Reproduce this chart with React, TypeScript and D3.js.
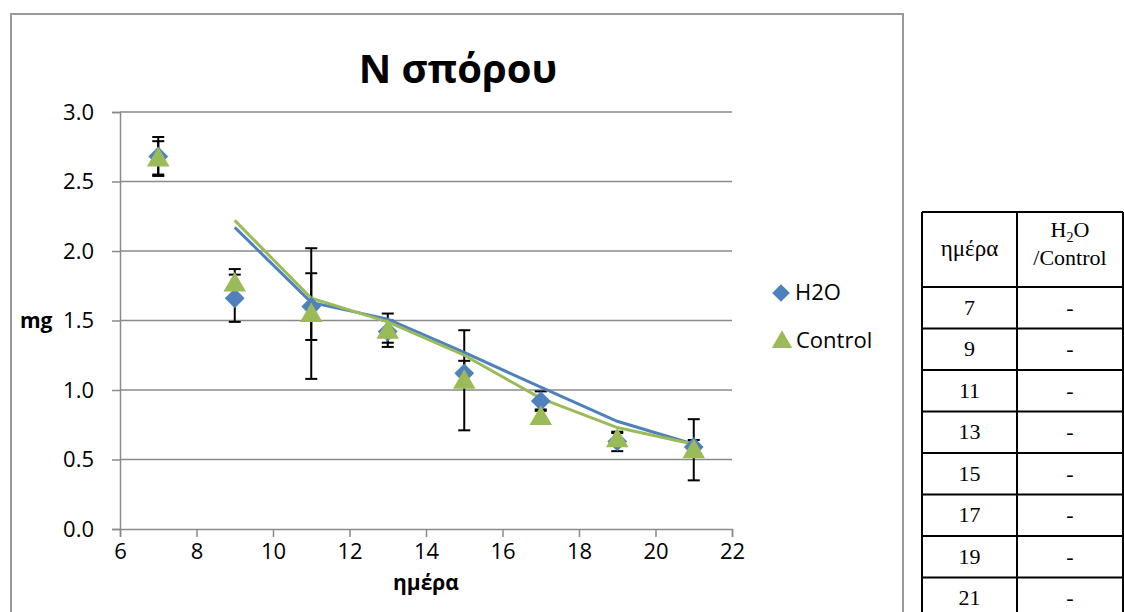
import React, { useEffect, useRef } from "react";
import * as d3 from "d3";

const DAYS = [7, 9, 11, 13, 15, 17, 19, 21];
const H2O = [2.68, 1.66, 1.6, 1.42, 1.12, 0.92, 0.63, 0.59];
const H2O_ERR = [0.14, 0.17, 0.24, 0.08, 0.09, 0.07, 0.07, 0.05];
const CONTROL = [2.67, 1.77, 1.55, 1.43, 1.07, 0.81, 0.65, 0.57];
const CONTROL_ERR = [0.12, 0.1, 0.47, 0.12, 0.36, 0.05, 0.04, 0.22];
const X_TICKS = [6, 8, 10, 12, 14, 16, 18, 20, 22];
const Y_TICKS = [0, 0.5, 1, 1.5, 2, 2.5, 3];
const TABLE_DAYS = ["7", "9", "11", "13", "15", "17", "19", "21"];
const TABLE_VALUES = ["-", "-", "-", "-", "-", "-", "-", "-"];

const BLUE = "#4F81BD";
const GREEN = "#9BBB59";
const GRID = "#8a8a8a";
const FONT = "'Open Sans', 'Noto Sans', sans-serif";
const SERIF = "'Liberation Serif', 'DejaVu Serif', serif";

export default function App() {
  const svgRef = useRef<SVGSVGElement>(null);

  useEffect(() => {
    document.body.style.margin = "0";
    const width = 1124, height = 612;
    const svg = d3.select(svgRef.current).attr("width", width).attr("height", height);
    svg.selectAll("*").remove();

    // chart frame (runs past the bottom of the page)
    svg.append("rect")
      .attr("x", 11).attr("y", 14).attr("width", 892).attr("height", 700)
      .attr("fill", "white").attr("stroke", "#999").attr("stroke-width", 2);

    const x = d3.scaleLinear().domain([6, 22]).range([120, 732]);
    const y = d3.scaleLinear().domain([0, 3]).range([529, 112]);

    // grid
    svg.selectAll(".grid").data(Y_TICKS.filter(d => d > 0)).join("line")
      .attr("x1", x(6)).attr("x2", x(22))
      .attr("y1", d => y(d)).attr("y2", d => y(d))
      .attr("stroke", GRID).attr("stroke-width", 1.5);

    // axes
    const axX = svg.append("g").attr("transform", `translate(0,${y(0)})`)
      .call(d3.axisBottom(x).tickValues(X_TICKS).tickSize(8).tickPadding(6));
    const axY = svg.append("g").attr("transform", `translate(${x(6)},0)`)
      .call(d3.axisLeft(y).tickValues(Y_TICKS).tickSize(8).tickPadding(18).tickFormat(d3.format(".1f")));
    [axX, axY].forEach(a => {
      a.select(".domain").attr("stroke", GRID).attr("stroke-width", 1.5);
      a.selectAll(".tick line").attr("stroke", GRID).attr("stroke-width", 1.5);
      a.selectAll(".tick text").attr("fill", "#000").style("font-family", FONT).style("font-size", "22px");
    });

    // title and axis titles
    svg.append("text").attr("x", 458).attr("y", 83).attr("text-anchor", "middle")
      .style("font-family", FONT).style("font-size", "40px").style("font-weight", 700)
      .text("N σπόρου");
    svg.append("text").attr("x", 426).attr("y", 590).attr("text-anchor", "middle")
      .style("font-family", FONT).style("font-size", "21px").style("font-weight", 700)
      .text("ημέρα");
    svg.append("text").attr("x", 20).attr("y", 328)
      .style("font-family", FONT).style("font-size", "21px").style("font-weight", 700)
      .text("mg");

    const series = [
      { name: "H2O", values: H2O, err: H2O_ERR, color: BLUE },
      { name: "Control", values: CONTROL, err: CONTROL_ERR, color: GREEN },
    ];

    // error bars
    series.forEach(s => {
      const g = svg.append("g").attr("stroke", "#000").attr("stroke-width", 2);
      DAYS.forEach((d, i) => {
        const hi = y(s.values[i] + s.err[i]), lo = y(s.values[i] - s.err[i]), cx = x(d);
        g.append("line").attr("x1", cx).attr("x2", cx).attr("y1", hi).attr("y2", lo);
        g.append("line").attr("x1", cx - 6).attr("x2", cx + 6).attr("y1", hi).attr("y2", hi);
        g.append("line").attr("x1", cx - 6).attr("x2", cx + 6).attr("y1", lo).attr("y2", lo);
      });
    });

    // 2-period moving average trendlines
    const line = d3.line<[number, number]>().x(d => x(d[0])).y(d => y(d[1]));
    series.forEach(s => {
      const pts: [number, number][] = d3.range(1, DAYS.length).map(i => [DAYS[i], (s.values[i - 1] + s.values[i]) / 2]);
      svg.append("path").attr("d", line(pts)).attr("fill", "none")
        .attr("stroke", s.color).attr("stroke-width", 3);
    });

    // markers
    const diamond = d3.symbol(d3.symbolDiamond2, 250)();
    const triangle = d3.symbol(d3.symbolTriangle, 220)();
    svg.selectAll(".h2o").data(DAYS).join("path")
      .attr("d", diamond).attr("fill", BLUE)
      .attr("transform", (d, i) => `translate(${x(d)},${y(H2O[i])})`);
    svg.selectAll(".ctl").data(DAYS).join("path")
      .attr("d", triangle).attr("fill", GREEN)
      .attr("transform", (d, i) => `translate(${x(d)},${y(CONTROL[i]) + 2})`);

    // legend
    const legDiamond = d3.symbol(d3.symbolDiamond2, 200)();
    const legTriangle = d3.symbol(d3.symbolTriangle, 180)();
    const leg = svg.append("g").style("font-family", FONT).style("font-size", "22px");
    leg.append("path").attr("d", legDiamond).attr("fill", BLUE).attr("transform", "translate(781,293)");
    leg.append("text").attr("x", 795).attr("y", 300).text("H2O");
    leg.append("path").attr("d", legTriangle).attr("fill", GREEN).attr("transform", "translate(782,342)");
    leg.append("text").attr("x", 796).attr("y", 348).text("Control");

    // table on the right
    const tx = [922, 1017, 1123];
    const top = 212, headH = 75, rowH = 41.5;
    const tg = svg.append("g").style("font-family", SERIF).style("font-size", "22px").attr("fill", "#000");
    const rowsY = d3.range(TABLE_DAYS.length + 1).map(i => top + headH + i * rowH);
    [top, ...rowsY].forEach(yy => {
      tg.append("line").attr("x1", tx[0]).attr("x2", tx[2]).attr("y1", yy).attr("y2", yy)
        .attr("stroke", "#000").attr("stroke-width", 2);
    });
    tx.forEach(xx => {
      tg.append("line").attr("x1", xx).attr("x2", xx).attr("y1", top).attr("y2", 640)
        .attr("stroke", "#000").attr("stroke-width", 2);
    });
    const c1 = (tx[0] + tx[1]) / 2, c2 = (tx[1] + tx[2]) / 2;
    tg.append("text").attr("x", c1).attr("y", 256).attr("text-anchor", "middle")
      .style("font-size", "23px").text("ημέρα");
    const h = tg.append("text").attr("x", c2).attr("y", 237).attr("text-anchor", "middle");
    h.append("tspan").text("H");
    h.append("tspan").attr("dy", 5).style("font-size", "14px").text("2");
    h.append("tspan").attr("dy", -5).text("O");
    tg.append("text").attr("x", c2).attr("y", 265).attr("text-anchor", "middle").text("/Control");
    TABLE_DAYS.forEach((d, i) => {
      const by = top + headH + i * rowH + rowH / 2 + 7;
      tg.append("text").attr("x", c1).attr("y", by).attr("text-anchor", "middle").text(d);
      tg.append("text").attr("x", c2).attr("y", by).attr("text-anchor", "middle").text(TABLE_VALUES[i]);
    });
  }, []);

  return (
    <div style={{ width: 1124, height: 612, overflow: "hidden" }}>
      <svg ref={svgRef} style={{ display: "block" }} />
    </div>
  );
}
